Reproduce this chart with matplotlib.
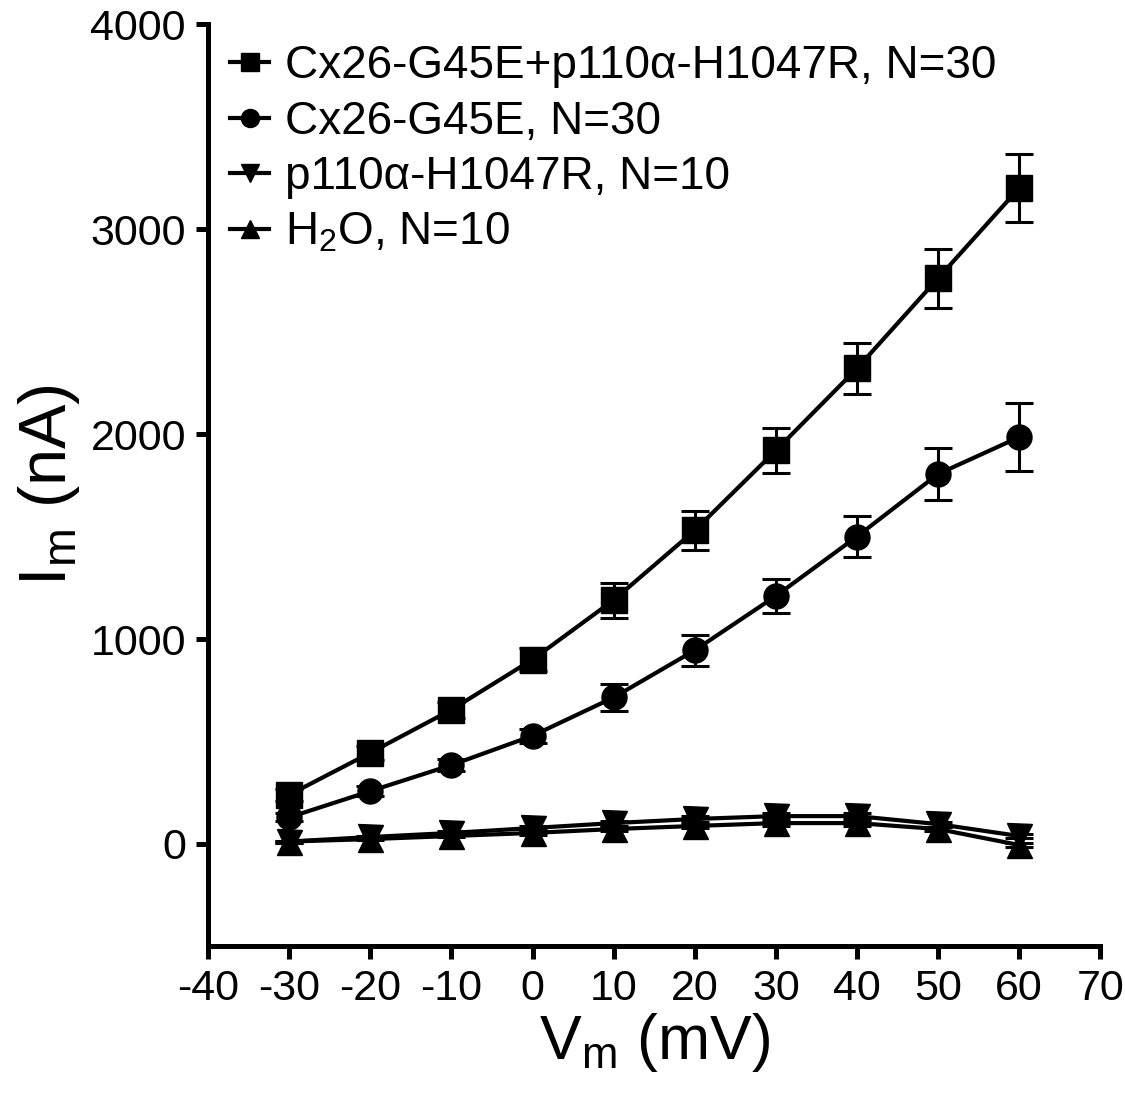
import matplotlib
matplotlib.use("Agg")
import matplotlib.pyplot as plt
from matplotlib.lines import Line2D

plt.rcParams['font.family'] = ['Liberation Sans', 'DejaVu Sans']
plt.rcParams['mathtext.default'] = 'regular'
plt.rcParams['axes.unicode_minus'] = False

# membrane voltage steps (mV)
vm = [-30, -20, -10, 0, 10, 20, 30, 40, 50, 60]

# mean currents (nA) and SEM for each injection group
cx_p110 = [240, 445, 655, 900, 1190, 1530, 1920, 2320, 2760, 3200]
cx_p110_err = [30, 35, 40, 55, 85, 95, 110, 125, 145, 165]

cx = [130, 258, 385, 528, 715, 945, 1210, 1500, 1805, 1985]
cx_err = [20, 25, 30, 35, 65, 75, 85, 100, 125, 165]

p110 = [12, 34, 54, 78, 102, 122, 136, 136, 97, 39]
p110_err = [5, 5, 8, 10, 12, 14, 15, 15, 12, 10]

h2o = [12, 24, 39, 54, 73, 88, 102, 102, 73, -5]
h2o_err = [5, 5, 6, 8, 10, 12, 12, 12, 10, 10]

labels = ['Cx26-G45E+p110α-H1047R, N=30', 'Cx26-G45E, N=30',
          'p110α-H1047R, N=10', 'H$_2$O, N=10']

fig = plt.figure(figsize=(11.25, 10.98), dpi=100)
ax = fig.add_axes([0.185, 0.138, 0.793, 0.840])

series = [(cx_p110, cx_p110_err, 's', 19),
          (cx, cx_err, 'o', 18),
          (p110, p110_err, 'v', 18),
          (h2o, h2o_err, '^', 18)]

handles = []
for (y, err, mk, ms), lab in zip(series, labels):
    ax.errorbar(vm, y, yerr=err, fmt='-', marker=mk, color='black',
                markersize=ms, linewidth=3, elinewidth=2.2, capsize=10,
                capthick=2.2)
    handles.append(Line2D([], [], color='black', marker=mk, markersize=13,
                          linewidth=3, label=lab))

ax.set_xlim(-40, 70)
ax.set_ylim(-500, 4000)
ax.set_xticks(range(-40, 71, 10))
ax.set_yticks([0, 1000, 2000, 3000, 4000])

for side in ['top', 'right']:
    ax.spines[side].set_visible(False)
for side in ['left', 'bottom']:
    ax.spines[side].set_linewidth(3.6)
ax.tick_params(direction='out', length=9, width=3.6, labelsize=31, pad=7)

ax.set_xlabel('V$_m$ (mV)', fontsize=45, labelpad=2)
ax.set_ylabel('I$_m$ (nA)', fontsize=48, labelpad=6)

ax.legend(handles=handles, loc='upper left', bbox_to_anchor=(0.025, 0.978),
          frameon=False, fontsize=33, handlelength=0.85,
          handletextpad=0.35, labelspacing=0.25, borderpad=0,
          borderaxespad=0)

fig.savefig('out.png', dpi=100)
